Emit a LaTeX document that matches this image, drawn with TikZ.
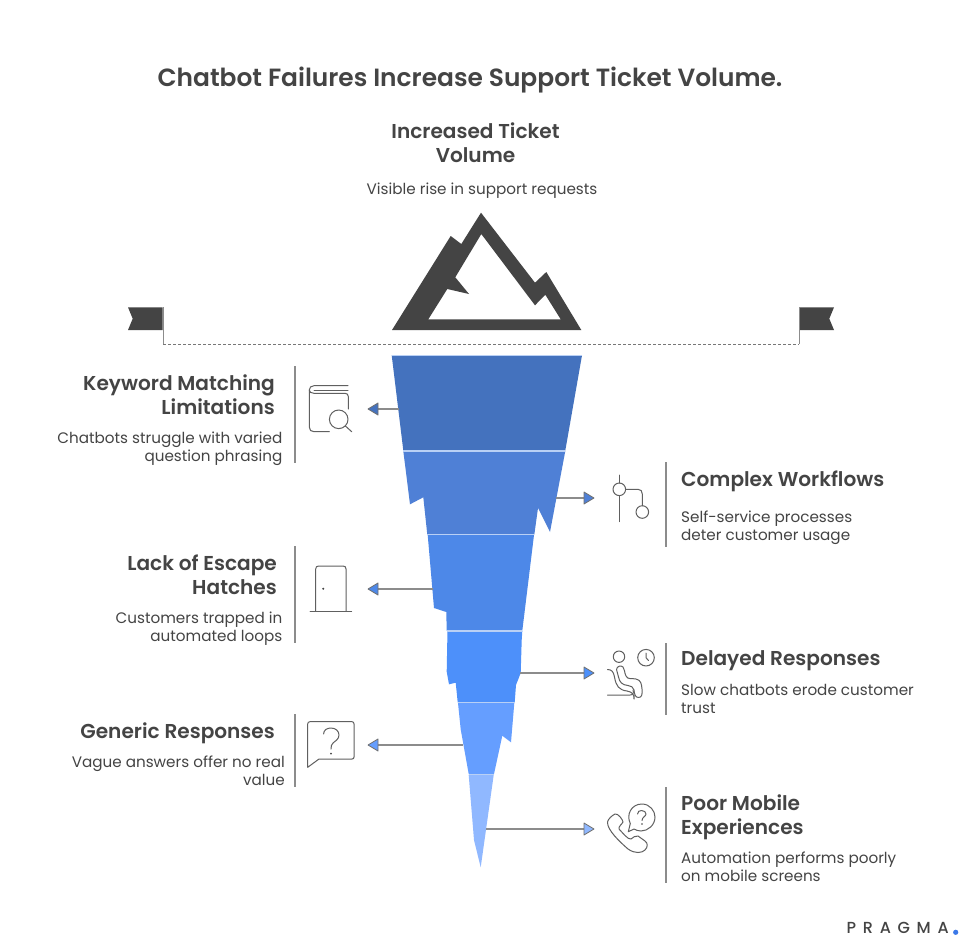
\documentclass[tikz,border=0pt]{standalone}
\usepackage{fontspec}
\setmainfont[BoldFont={Poppins SemiBold}]{Poppins}
\newfontfamily\logofont[LetterSpace=42]{Poppins Medium}
\definecolor{ink}{HTML}{444444}
\definecolor{rulegray}{HTML}{8C8C8C}
\definecolor{bandA}{HTML}{4472BE}
\definecolor{bandB}{HTML}{4F80D6}
\definecolor{bandC}{HTML}{4D88E8}
\definecolor{bandD}{HTML}{4D90FA}
\definecolor{bandE}{HTML}{659EFF}
\definecolor{bandF}{HTML}{90B8FF}
\definecolor{seam}{HTML}{B9D0F5}
\definecolor{logodot}{HTML}{3B78E8}
\tikzset{
  x=1pt,y=-1pt,
  titletext/.style={font=\fontsize{24.9}{30}\selectfont\bfseries,text=ink,anchor=center,inner sep=0},
  headL/.style={font=\fontsize{20.1}{24}\selectfont\bfseries,text=ink,align=right,anchor=east,inner sep=0},
  headR/.style={font=\fontsize{20.1}{24}\selectfont\bfseries,text=ink,align=left,anchor=west,inner sep=0},
  headC/.style={font=\fontsize{20.1}{24}\selectfont\bfseries,text=ink,align=center,anchor=center,inner sep=0},
  descL/.style={font=\fontsize{15.2}{18}\selectfont,text=ink,align=right,anchor=east,inner sep=0},
  descR/.style={font=\fontsize{15.2}{18}\selectfont,text=ink,align=left,anchor=west,inner sep=0},
  descC/.style={font=\fontsize{15.2}{18}\selectfont,text=ink,align=center,anchor=center,inner sep=0},
  divider/.style={draw=rulegray,line width=1.3pt},
  icon/.style={draw=ink!85,line width=1pt,line cap=round,line join=round},
  seamline/.style={draw=seam,line width=1.1pt},
  leader/.style={draw=rulegray,line width=1.5pt},
  tipbox/.style={draw=rulegray!80!black,line width=0.8pt,line join=round},
}
\newcommand{\tipL}[3]{\path[tipbox,fill=#3] (#1,#2) -- ++(10,-6) -- ++(0,12) -- cycle;}
\newcommand{\tipR}[3]{\path[tipbox,fill=#3] (#1,#2) -- ++(-10,-6) -- ++(0,12) -- cycle;}
\begin{document}
\begin{tikzpicture}
\useasboundingbox[fill=white] (0,0) rectangle (972,948);

% text
\node[titletext] (title) at (470,80) {Chatbot Failures Increase Support Ticket Volume.};
\node[headC] (topH) at (475.5,143) {Increased Ticket\\Volume};
\node[descC] (topD) at (482,191) {Visible rise in support requests};

\node[headL] (h1) at (275,395) {Keyword Matching\\Limitations};
\node[descL] (d1) at (282.5,449) {Chatbots struggle with varied\\question phrasing};
\node[headR] (h2) at (681,481) {Complex Workflows};
\node[descR] (d2) at (681,527.5) {Self-service processes\\deter customer usage};
\node[headL] (h3) at (277,575) {Lack of Escape\\Hatches};
\node[descL] (d3) at (282.5,629) {Customers trapped in\\automated loops};
\node[headR] (h4) at (681,661) {Delayed Responses};
\node[descR] (d4) at (681,699) {Slow chatbots erode customer\\trust};
\node[headL] (h5) at (275,733) {Generic Responses};
\node[descL] (d5) at (285,771) {Vague answers offer no real\\value};
\node[headR] (h6) at (681,817) {Poor Mobile\\Experiences};
\node[descR] (d6) at (681,867) {Automation performs poorly\\on mobile screens};

% dividers
\draw[divider] (295,366) -- (295,463);
\draw[divider] (666,462) -- (666,547);
\draw[divider] (295,546) -- (295,643);
\draw[divider] (666,643) -- (666,715);
\draw[divider] (295,714) -- (295,787);
\draw[divider] (666,787) -- (666,883);

% mountain
\fill[ink,even odd rule]
  (392,330) -- (450.7,236) -- (461.3,244) -- (481,212.7) -- (535,282.7) -- (546.3,272) -- (581.3,330) -- cycle
  (428.3,319.3) -- (447.3,289) -- (469,294) -- (455.3,277.3) -- (481.3,234) -- (535,305.3) -- (545.3,294.7) -- (560.7,319.3) -- cycle;

% flags and waterline
\fill[ink] (128,307.3) -- (162.7,307.3) -- (162.7,330) -- (128,330) -- (132.7,318.7) -- cycle;
\fill[ink] (834,307.3) -- (799.3,307.3) -- (799.3,330) -- (834,330) -- (829.3,318.7) -- cycle;
\draw[rulegray,line width=1pt] (163,307) -- (163,344);
\draw[rulegray,line width=1pt] (799,307) -- (799,344);
\draw[rulegray!85!black,line width=1pt,dash pattern=on 3pt off 2pt] (163,344) -- (799,344);

% iceberg bands
\fill[bandA] (391.7,355.3) -- (582,355.3) -- (565.3,450.5) -- (403.3,450.5) -- cycle;
\fill[bandB] (403.3,451) -- (565.3,451) -- (550,532) -- (538,508) -- (534.3,534.7) -- (427.3,534.7) -- (423.3,497.3) -- (410,504.3) -- cycle;
\fill[bandC] (427.7,535) -- (534,535) -- (522.3,630.7) -- (446.7,630.7) -- (446.3,612) -- (434,608) -- cycle;
\fill[bandD] (447.3,631) -- (522.3,631) -- (521.7,640) -- (520.7,673) -- (516,685) -- (514.7,702.3) -- (457.7,702.3) -- (455.7,682.7) -- (449,684.3) -- (446.7,671.7) -- (447.3,640) -- cycle;
\fill[bandE] (458,703) -- (514.3,703) -- (511,742.3) -- (502.3,735.7) -- (494,774) -- (468.7,774) -- (460.7,729.3) -- cycle;
\fill[bandF] (468.7,775) -- (493.7,775) -- (480.7,867.3) -- (474,840) -- cycle;
\draw[seamline] (391.7,355.3) -- (582,355.3);
\draw[seamline] (403.3,451) -- (565.3,451);
\draw[seamline] (427.3,534.8) -- (534.3,534.8);
\draw[seamline] (446.7,631) -- (522.3,631);
\draw[seamline] (457.7,702.8) -- (514.7,702.8);
\draw[seamline] (468.7,774.7) -- (493.9,774.7);

% leaders
\coordinate (s1) at (399,409); \coordinate (e1) at (377,409);
\coordinate (s2) at (556,498); \coordinate (e2) at (584,498);
\coordinate (s3) at (433,589); \coordinate (e3) at (377,589);
\coordinate (s4) at (520,673); \coordinate (e4) at (584,673);
\coordinate (s5) at (463,745); \coordinate (e5) at (377,745);
\coordinate (s6) at (486,829); \coordinate (e6) at (584,829);
\draw[leader] (s1) -- (e1);
\draw[leader] (s2) -- (e2);
\draw[leader] (s3) -- (e3);
\draw[leader] (s4) -- (e4);
\draw[leader] (s5) -- (e5);
\draw[leader] (s6) -- (e6);
\tipL{368}{409}{bandA}
\tipR{594}{498}{bandB}
\tipL{368}{589}{bandC}
\tipR{594}{673}{bandD}
\tipL{368}{745}{bandE}
\tipR{594}{829}{bandF}

% book icon
\draw[icon] (348,385.7) -- (314,385.7) .. controls (311,385.7) and (309.3,387.5) .. (309.3,390) -- (309.3,427) .. controls (309.3,430) and (311,431.7) .. (314,431.7) -- (329.3,431.7);
\draw[icon] (348,390) -- (314,390);
\draw[icon] (309.3,390) .. controls (309.3,392) and (311,393.3) .. (314,393.3) -- (345,393.3) .. controls (347,393.3) and (348.3,394.5) .. (348.3,396.5) -- (348.3,409);
\draw[icon] (338.7,419.3) circle (9.3);
\draw[icon] (345.3,425.9) -- (351.7,431.7);

% route icon
\draw[icon] (619.3,475) -- (619.3,483);
\draw[icon] (619.3,495.6) -- (619.3,521.7);
\draw[icon] (619.3,489.3) circle (6.3);
\draw[icon] (642.3,512) circle (6.3);
\draw[icon] (625.7,489.3) -- (638,489.3) .. controls (640.7,489.3) and (642.3,491) .. (642.3,494) -- (642.3,505.7);

% door icon
\draw[icon] (315.7,611.3) -- (315.7,569) .. controls (315.7,567) and (316.7,566) .. (318.7,566) -- (343,566) .. controls (345,566) and (346,567) .. (346,569) -- (346,611.3);
\draw[icon] (310,611.3) -- (351.7,611.3);
\fill[ink] (323.3,588.7) circle (1.1);

% waiting icon
\draw[icon] (619,656.7) circle (5.7);
\draw[icon] (646,657.7) circle (8.3);
\draw[icon] (646,653) -- (646,657.7) -- (648.5,660.5);
\draw[icon] (607.5,669.5) .. controls (612,669.5) and (613.5,672) .. (614.5,677) .. controls (616,686) and (619,690) .. (627,691) .. controls (633,692) and (634,695) .. (634,699) -- (634,695) ;
\draw[icon] (607.5,695) -- (630,695) .. controls (633,695) and (634,693) .. (633,690);
\draw[icon] (616.5,669.5) .. controls (617,666) and (621,665) .. (623,667) .. controls (625,669) and (624,672) .. (626,676) .. controls (628,680) and (632,678) .. (636,679) .. controls (641,680) and (641.5,684) .. (642,689) .. controls (642.5,694) and (642,697.5) .. (638.5,697.5) .. controls (635,697.5) and (634.5,694) .. (634,690) .. controls (633.5,687) and (631,686) .. (628,685.5) .. controls (622,685) and (619.5,682) .. (618.5,677) -- (616.5,669.5);

% speech bubble icon
\draw[icon] (307.7,767.3) -- (307.7,724) .. controls (307.7,722.5) and (308.5,721.7) .. (310,721.7) -- (352,721.7) .. controls (353.3,721.7) and (354,722.5) .. (354,724) -- (354,757) .. controls (354,758.3) and (353.3,759) .. (352,759) -- (319,759) -- cycle;
\draw[icon] (323.6,734) .. controls (323.6,730) and (327,728) .. (331,728) .. controls (335.5,728) and (339,731) .. (339,735) .. controls (339,739.5) and (335,741) .. (333,743) .. controls (331.5,744.5) and (331,746) .. (331,749);
\fill[ink] (331,753.7) circle (1);

% phone icon
\draw[icon] (615,814) .. controls (612,815.5) and (608,819) .. (607.5,822) .. controls (607,830) and (620,842) .. (628,849) .. controls (635,854) and (642,853) .. (645,850) .. controls (648,847) and (648,843) .. (645,841) -- (638,836) .. controls (635,835) and (633,838) .. (631,839) .. controls (628,840) and (622,832) .. (619,829) .. controls (618,827) and (622,824) .. (623,822) .. controls (623,820) and (618,813) .. (615,814) -- cycle;
\draw[icon] (628.3,831.7) -- (630.3,823.5) .. controls (626,815) and (631,804) .. (642,804) .. controls (650,804) and (655,811) .. (655,817) .. controls (655,825) and (648,831) .. (641,831) .. controls (638,831) and (636,830) .. (634,829) -- cycle;
\draw[icon] (637.5,814) .. controls (637.5,811.5) and (639.5,810.5) .. (641.5,810.5) .. controls (644,810.5) and (646,812) .. (646,814) .. controls (646,816.5) and (642,817) .. (642,820.5);
\fill[ink] (642,824) circle (0.8);

% logo
\node[font=\fontsize{16}{18}\selectfont\logofont,text=ink,anchor=west,inner sep=0] (logo) at (846.5,927.5) {PRAGMA};
\fill[logodot] (955.7,932.3) circle (2.6);
\end{tikzpicture}
\end{document}
